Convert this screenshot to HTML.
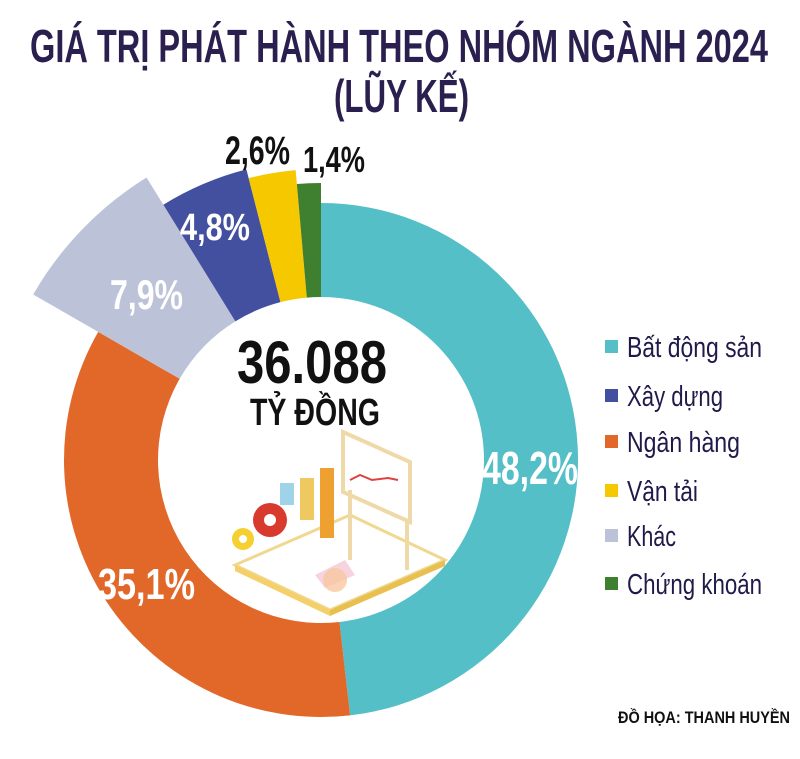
<!DOCTYPE html>
<html><head><meta charset="utf-8"><style>
html,body{margin:0;padding:0;background:#fff;}
svg{display:block;}
text{font-family:"Liberation Sans Narrow","Liberation Sans",sans-serif;font-weight:bold;}
.lg{font-weight:normal;fill:#1f1a4a;font-size:29px;}
</style></head><body>
<svg id="s" width="800" height="759" viewBox="0 0 800 759" xmlns="http://www.w3.org/2000/svg">
<g id="pie"></g>
<text x="30" y="62" font-size="46" fill="#2a1f4e" textLength="738" lengthAdjust="spacingAndGlyphs">GIÁ TRỊ PHÁT HÀNH THEO NHÓM NGÀNH 2024</text>
<text x="334" y="112" font-size="46" fill="#2a1f4e" textLength="135" lengthAdjust="spacingAndGlyphs">(LŨY KẾ)</text>

<text x="482" y="484" font-size="46" fill="#fff" textLength="96" lengthAdjust="spacingAndGlyphs">48,2%</text>
<text x="98" y="599" font-size="44" fill="#fff" textLength="97" lengthAdjust="spacingAndGlyphs">35,1%</text>
<text x="110" y="309" font-size="42" fill="#fff" textLength="73" lengthAdjust="spacingAndGlyphs">7,9%</text>
<text x="180" y="240" font-size="38" fill="#fff" textLength="70" lengthAdjust="spacingAndGlyphs">4,8%</text>
<text x="225" y="164" font-size="40" fill="#111" textLength="65" lengthAdjust="spacingAndGlyphs">2,6%</text>
<text x="303" y="172" font-size="36" fill="#111" textLength="62" lengthAdjust="spacingAndGlyphs">1,4%</text>

<text x="237" y="383" font-size="60" fill="#111" textLength="150" lengthAdjust="spacingAndGlyphs">36.088</text>
<text x="250" y="425" font-size="38" fill="#111" textLength="130" lengthAdjust="spacingAndGlyphs">TỶ ĐỒNG</text>

<g>
<polygon points="235,565 330,610 445,560 350,515" fill="#fff" stroke="#f0d890" stroke-width="3"/>
<polygon points="235,565 330,610 330,616 235,571" fill="#f5cf6a"/>
<polygon points="330,610 445,560 445,566 330,616" fill="#e8c050"/>
<rect x="280" y="483" width="14" height="22" fill="#9fd3ea"/>
<rect x="300" y="478" width="14" height="42" fill="#f0c860"/>
<rect x="320" y="468" width="14" height="70" fill="#eea030"/>
<circle cx="270" cy="520" r="17" fill="#d93a2e"/><circle cx="270" cy="520" r="6" fill="#fff"/>
<circle cx="243" cy="539" r="11" fill="#f5d030"/><circle cx="243" cy="539" r="4" fill="#fff"/>
<polygon points="343,432 410,462 410,522 343,492" fill="#fff" stroke="#f0d9a8" stroke-width="4"/>
<polyline points="350,480 360,475 372,480 388,478 398,480" fill="none" stroke="#e04040" stroke-width="2"/>
<line x1="350" y1="490" x2="350" y2="560" stroke="#f0d9a8" stroke-width="4"/>
<line x1="407" y1="520" x2="407" y2="570" stroke="#f0d9a8" stroke-width="4"/>
<polygon points="315,575 345,560 355,575 325,588" fill="#f4c0d0" opacity=".7"/>
<circle cx="335" cy="580" r="12" fill="#f7c8a0" opacity=".8"/>
</g>

<g>
<rect x="605" y="340" width="13" height="13" fill="#55bfc8"/><text class="lg" x="627" y="357" textLength="135" lengthAdjust="spacingAndGlyphs">Bất động sản</text>
<rect x="605" y="389" width="13" height="13" fill="#43509f"/><text class="lg" x="627" y="406" textLength="96" lengthAdjust="spacingAndGlyphs">Xây dựng</text>
<rect x="605" y="435" width="13" height="13" fill="#e2682a"/><text class="lg" x="627" y="452" textLength="113" lengthAdjust="spacingAndGlyphs">Ngân hàng</text>
<rect x="605" y="484" width="13" height="13" fill="#f5c800"/><text class="lg" x="627" y="501" textLength="71" lengthAdjust="spacingAndGlyphs">Vận tải</text>
<rect x="605" y="529" width="13" height="13" fill="#bcc3d8"/><text class="lg" x="627" y="546" textLength="49" lengthAdjust="spacingAndGlyphs">Khác</text>
<rect x="605" y="577" width="13" height="13" fill="#3f8030"/><text class="lg" x="627" y="594" textLength="135" lengthAdjust="spacingAndGlyphs">Chứng khoán</text>
</g>
<text x="618" y="723" font-size="17" fill="#111" textLength="172" lengthAdjust="spacingAndGlyphs">ĐỒ HỌA: THANH HUYỀN</text>
</svg>
<script>
(function(){
var cx=321,cy=460,ri=163;
var seg=[[0,173.5,257,"#55bfc8"],[173.5,299.9,257,"#e2682a"],[299.9,328.3,332,"#bcc3d8"],[328.3,345.6,300,"#43509f"],[345.6,355,291,"#f5c800"],[355,360,277,"#3f8030"]];
function p(a,r){var t=a*Math.PI/180;return (cx+r*Math.sin(t)).toFixed(2)+","+(cy-r*Math.cos(t)).toFixed(2);}
var g=document.getElementById("pie"),h="";
seg.forEach(function(s){var la=(s[1]-s[0])>180?1:0;
h+='<path fill="'+s[3]+'" d="M'+p(s[0],s[2])+' A'+s[2]+','+s[2]+' 0 '+la+' 1 '+p(s[1],s[2])+' L'+p(s[1],ri)+' A'+ri+','+ri+' 0 '+la+' 0 '+p(s[0],ri)+' Z"/>';});
g.innerHTML=h;
})();
</script>
</body></html>
